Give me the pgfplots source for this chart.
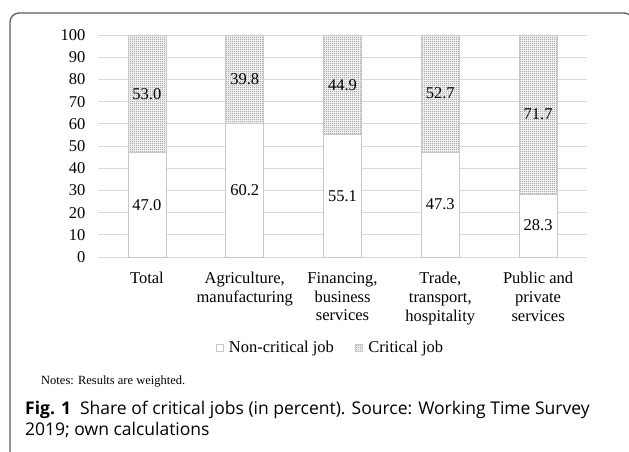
\documentclass[border=0pt]{standalone}
\usepackage{fontspec}
\setmainfont{Liberation Serif}
\newfontfamily\capfont{Open Sans}
\usepackage{pgfplots}
\pgfplotsset{compat=1.18}
\usetikzlibrary{patterns}

% fine checkerboard of dots, as in the printed figure
\pgfdeclarepatternformonly{finedots}{\pgfqpoint{0pt}{0pt}}{\pgfqpoint{2pt}{2pt}}{\pgfqpoint{2pt}{2pt}}{%
  \pgfpathrectangle{\pgfqpoint{0pt}{0pt}}{\pgfqpoint{1pt}{1pt}}%
  \pgfpathrectangle{\pgfqpoint{1pt}{1pt}}{\pgfqpoint{1pt}{1pt}}%
  \pgfusepath{fill}}

\definecolor{gridgray}{RGB}{217,217,217}
\definecolor{bargray}{RGB}{200,200,200}
\definecolor{dotgray}{RGB}{125,125,125}
\definecolor{framegray}{RGB}{90,90,90}

\tikzset{val/.style={font=\fontsize{16.5}{18}\selectfont}}

\begin{document}
\begin{tikzpicture}
\useasboundingbox (0pt,0pt) rectangle (629pt,451pt);
\begin{scope}
  \clip (0pt,0pt) rectangle (629pt,451pt);
  \draw[framegray, line width=1.3pt, rounded corners=9pt] (10pt,-12pt) rectangle (633pt,438pt);
\end{scope}

\begin{axis}[
  at={(98pt,194pt)}, anchor=south west,
  scale only axis, width=489pt, height=222pt,
  ybar stacked, bar width=38pt,
  xmin=-0.5, xmax=4.5, ymin=0, ymax=100,
  xtick={0,1,2,3,4},
  xticklabels={Total, {Agriculture,\\manufacturing}, {Financing,\\business\\services},
    {Trade,\\transport,\\hospitality}, {Public and\\private\\services}},
  xticklabel style={align=center, font=\fontsize{16.5}{18.7}\selectfont, anchor=north, yshift=-12pt},
  ytick={0,10,...,100},
  yticklabel style={font=\fontsize{16.5}{18}\selectfont, xshift=-9pt},
  /pgf/number format/assume math mode=true,
  ymajorgrids, grid style={gridgray, line width=0.8pt},
  axis line style={draw=none}, major tick style={draw=none},
  legend columns=2,
  legend style={at={(0.475,-0.41)}, anchor=center, draw=none,
    font=\fontsize{16.5}{18}\selectfont, inner sep=1pt,
    nodes={inner sep=1.5pt},
    /tikz/every even column/.append style={column sep=20pt}},
  legend image code/.code={%
    \draw[#1, line width=0.5pt] (0pt,-3.5pt) rectangle (7pt,3.5pt);
    \path (11pt,0pt);},
]
\addplot[fill=white, draw=bargray, line width=0.6pt]
  coordinates {(0,47.0) (1,60.2) (2,55.1) (3,47.3) (4,28.3)};
\addplot[fill=white, draw=bargray, line width=0.6pt,
  postaction={pattern=finedots, pattern color=dotgray}]
  coordinates {(0,53.0) (1,39.8) (2,44.9) (3,52.7) (4,71.7)};
\legend{Non-critical job, Critical job}

% middle of each segment, labelled after the axis so the bars do not cover them
\coordinate (a0) at (0,23.5);   \coordinate (b0) at (0,73.5);
\coordinate (a1) at (1,30.1);   \coordinate (b1) at (1,80.1);
\coordinate (a2) at (2,27.55);  \coordinate (b2) at (2,77.55);
\coordinate (a3) at (3,23.65);  \coordinate (b3) at (3,73.65);
\coordinate (a4) at (4,14.15);  \coordinate (b4) at (4,64.15);
\end{axis}

\node[val] at (a0) {47.0};  \node[val] at (b0) {53.0};
\node[val] at (a1) {60.2};  \node[val] at (b1) {39.8};
\node[val] at (a2) {55.1};  \node[val] at (b2) {44.9};
\node[val] at (a3) {47.3};  \node[val] at (b3) {52.7};
\node[val] at (a4) {28.3};  \node[val] at (b4) {71.7};

\node[anchor=base west, inner sep=0pt, font=\fontsize{12.5}{14}\selectfont] at (41pt,67pt) {Notes: Results are weighted.};
\node[anchor=base west, inner sep=0pt, font=\capfont\fontsize{17.5}{22}\selectfont] at (25pt,37pt)
  {\textbf{Fig. 1}\hspace{9pt}Share of critical jobs (in percent). Source: Working Time Survey};
\node[anchor=base west, inner sep=0pt, font=\capfont\fontsize{17.5}{22}\selectfont] at (25pt,16pt)
  {2019; own calculations};
\end{tikzpicture}
\end{document}
